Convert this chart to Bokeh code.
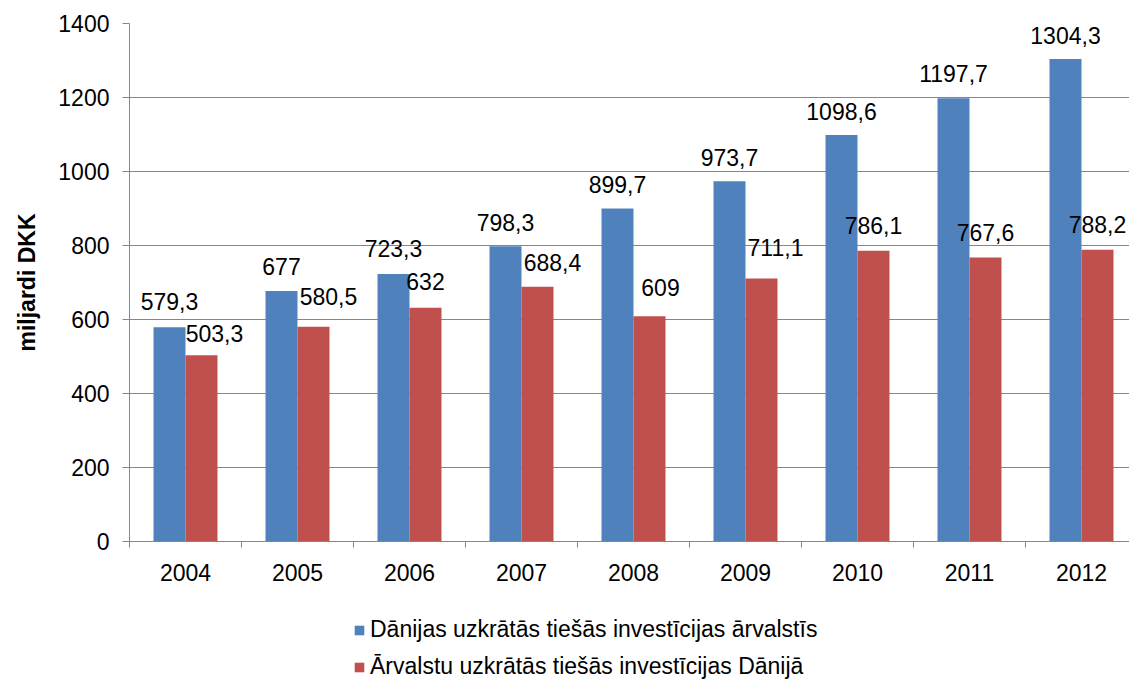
from bokeh.plotting import figure
from bokeh.layouts import column
from bokeh.models import (ColumnDataSource, Range1d, FixedTicker, Legend, LegendItem)
from bokeh.core.properties import value
from bokeh.embed import file_html
from bokeh.resources import INLINE

years = ["2004", "2005", "2006", "2007", "2008", "2009", "2010", "2011", "2012"]
outward = [579.3, 677, 723.3, 798.3, 899.7, 973.7, 1098.6, 1197.7, 1304.3]
inward = [503.3, 580.5, 632, 688.4, 609, 711.1, 786.1, 767.6, 788.2]
y_ticks = [0, 200, 400, 600, 800, 1000, 1200, 1400]
series_names = ["Dānijas uzkrātās tiešās investīcijas ārvalstīs",
                "Ārvalstu uzkrātās tiešās investīcijas Dānijā"]

# label nudges in screen pixels (style only)
blue_lift = [26, 25, 25, 24, 24, 24, 24, 25, 23]
red_lift = [22, 30, 26, 24, 29, 31, 25, 25, 25]
red_shift = [13, 15, 0, 15, 11, 14, 0, 0, 0]

BLUE = "#4F81BD"
RED = "#C0504D"
GRAY = "#868686"
FONT = "Liberation Sans"
FS = "23px"
W = 1129

def fmt(v):
    return f"{v:g}".replace(".", ",")

centers = [i + 0.5 for i in range(len(years))]
bw = 32 / 112
src = ColumnDataSource(dict(
    xb=[c - bw / 2 for c in centers],
    xr=[c + bw / 2 for c in centers],
    blue=outward, red=inward,
    lb=[fmt(v) for v in outward],
    lr=[fmt(v) for v in inward],
    byo=[-d for d in blue_lift],
    ryo=[-d for d in red_lift],
    rxo=red_shift,
))

p = figure(width=W, height=600, output_backend="svg", toolbar_location=None,
           x_range=Range1d(0, (W - 129) / 112), y_range=Range1d(0, 1400),
           min_border_left=129, min_border_right=0, min_border_top=23,
           min_border_bottom=59)
p.outline_line_color = None
p.background_fill_color = "white"
p.border_fill_color = "white"

rb = p.vbar(x="xb", top="blue", width=bw, source=src, fill_color=BLUE, line_color=None)
rr = p.vbar(x="xr", top="red", width=bw, source=src, fill_color=RED, line_color=None)

p.text(x="xb", y="blue", text="lb", source=src, y_offset="byo",
       text_align="center", text_baseline="middle",
       text_font=value(FONT), text_font_size=FS, text_color="black")
p.text(x="xr", y="red", text="lr", source=src, y_offset="ryo", x_offset="rxo",
       text_align="center", text_baseline="middle",
       text_font=value(FONT), text_font_size=FS, text_color="black")

# x axis
xa = p.xaxis[0]
xa.ticker = FixedTicker(ticks=centers, minor_ticks=list(range(len(years) + 1)))
xa.major_label_overrides = {c: y for c, y in zip(centers, years)}
xa.major_tick_line_color = None
xa.minor_tick_line_color = GRAY
xa.minor_tick_out = 6
xa.minor_tick_in = 0
xa.axis_line_color = GRAY
xa.major_label_standoff = 16
xa.major_label_text_font = FONT
xa.major_label_text_font_size = FS
xa.major_label_text_color = "black"

# y axis
ya = p.yaxis[0]
ya.ticker = FixedTicker(ticks=y_ticks)
ya.major_tick_out = 7
ya.major_tick_in = 0
ya.minor_tick_line_color = None
ya.major_tick_line_color = GRAY
ya.axis_line_color = GRAY
ya.major_label_standoff = 13
ya.major_label_text_font = FONT
ya.major_label_text_font_size = FS
ya.major_label_text_color = "black"
ya.axis_label = "miljardi DKK"
ya.axis_label_text_font = FONT
ya.axis_label_text_font_size = "23px"
ya.axis_label_text_font_style = "bold"
ya.axis_label_text_color = "black"
ya.axis_label_standoff = 15

p.xgrid.grid_line_color = None
p.ygrid.grid_line_color = GRAY
p.ygrid.ticker = FixedTicker(ticks=y_ticks)

# legend figure below the chart (its frame is aligned with the chart frame)
lf = figure(width=W, height=82, output_backend="svg", toolbar_location=None,
            x_range=Range1d(-20, -19), y_range=Range1d(0, 1),
            min_border=0, x_axis_type=None, y_axis_type=None)
lf.outline_line_color = None
lf.grid.visible = False
lb_r = lf.vbar(x="xb", top="blue", width=bw, source=src, fill_color=BLUE, line_color=None)
lr_r = lf.vbar(x="xr", top="red", width=bw, source=src, fill_color=RED, line_color=None)
legend = Legend(items=[LegendItem(label=series_names[0], renderers=[lb_r]),
                       LegendItem(label=series_names[1], renderers=[lr_r])],
                orientation="vertical", location=(224, 2),
                border_line_color=None, background_fill_alpha=0,
                padding=0, margin=0, spacing=10,
                glyph_width=12, glyph_height=12, label_height=20,
                label_standoff=5,
                label_text_font=FONT, label_text_font_size=FS,
                label_text_color="black")
lf.add_layout(legend, "center")

open("out.html", "w").write(file_html(column(p, lf, spacing=0), INLINE))
